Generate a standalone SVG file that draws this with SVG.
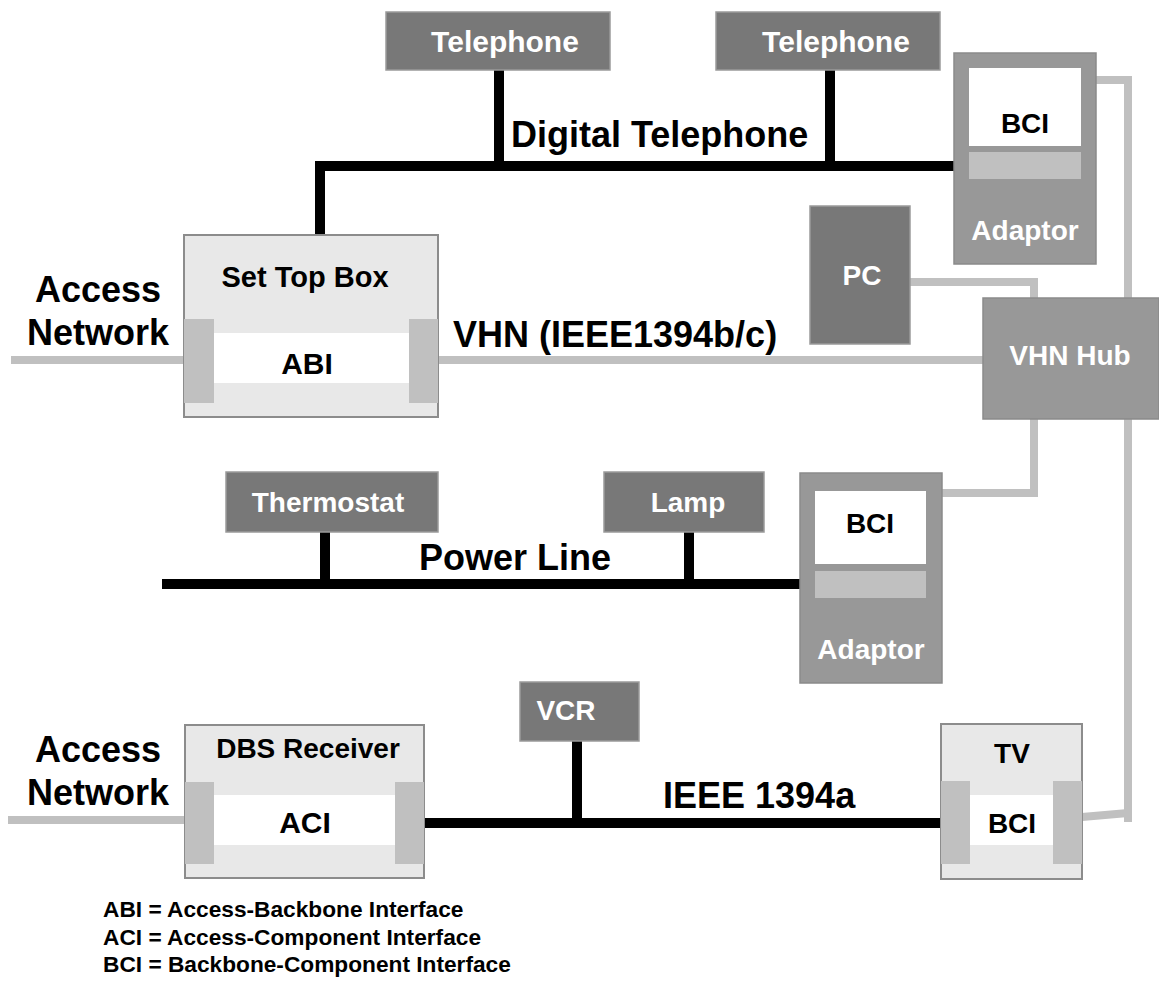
<svg xmlns="http://www.w3.org/2000/svg" width="1159" height="1007" viewBox="0 0 1159 1007">
<style>
text{font-family:"Liberation Sans",Arial,sans-serif;font-weight:bold}
.dk{fill:#787878;stroke:#9a9a9a;stroke-width:1.5}
.md{fill:#989898;stroke:#8a8a8a;stroke-width:1.5}
.lt{fill:#e8e8e8;stroke:#8c8c8c;stroke-width:2}
.wh{fill:#ffffff}
.cn{fill:#c0c0c0}
.wt{fill:#ffffff;font-size:28px;text-anchor:middle}
.bt{fill:#000000;font-size:28px;text-anchor:middle}
.big{fill:#000000;font-size:36px}
.leg{fill:#000000;font-size:22.7px}
.bk{stroke:#000;stroke-width:10;fill:none}
.gr{stroke:#c0c0c0;stroke-width:8;fill:none}
</style>
<g id="connectors">
<polyline class="bk" points="320,236 320,166 954,166"/>
<line class="bk" x1="499" y1="70" x2="499" y2="166"/>
<line class="bk" x1="830" y1="70" x2="830" y2="166"/>
<line class="bk" x1="162" y1="584" x2="800" y2="584"/>
<line class="bk" x1="325" y1="532" x2="325" y2="584"/>
<line class="bk" x1="689" y1="532" x2="689" y2="584"/>
<line class="bk" x1="424" y1="823" x2="941" y2="823"/>
<line class="bk" x1="577" y1="741" x2="577" y2="823"/>
<line class="gr" x1="11" y1="360" x2="184" y2="360"/>
<line class="gr" x1="8" y1="820" x2="185" y2="820"/>
<line class="gr" x1="438" y1="360" x2="983" y2="360"/>
<polyline class="gr" points="910,282 1034,282 1034,298"/>
<polyline class="gr" points="1034,419 1034,493 942,493"/>
<polyline class="gr" points="1096,80 1128,80 1128,822"/>
<line class="gr" x1="1082" y1="817" x2="1128" y2="813"/>
</g>
<g id="telephone1"><rect class="dk" x="386" y="12" width="224" height="58"/><text class="wt" x="505" y="52" style="font-size:30px">Telephone</text></g>
<g id="telephone2"><rect class="dk" x="716" y="12" width="224" height="58"/><text class="wt" x="836" y="52" style="font-size:30px">Telephone</text></g>
<g id="adaptor1"><rect class="md" x="954" y="53" width="142" height="211"/><rect class="wh" x="969" y="68" width="112" height="78"/><rect class="cn" x="969" y="152" width="112" height="27"/><text class="bt" x="1025" y="133">BCI</text><text class="wt" x="1025" y="240">Adaptor</text></g>
<g id="settopbox"><rect class="lt" x="184" y="235" width="254" height="182"/><rect class="wh" x="214" y="333" width="195" height="50"/><rect class="cn" x="184" y="319" width="30" height="84"/><rect class="cn" x="409" y="319" width="29" height="84"/><text class="bt" x="305" y="287" style="font-size:29px">Set Top Box</text><text class="bt" x="307" y="374" style="font-size:30px">ABI</text></g>
<g id="pc"><rect class="dk" x="810" y="206" width="100" height="138"/><text class="wt" x="862" y="285">PC</text></g>
<g id="vhnhub"><rect class="md" x="983" y="298" width="176" height="121"/><text class="wt" x="1070" y="365">VHN Hub</text></g>
<g id="thermostat"><rect class="dk" x="226" y="472" width="212" height="60"/><text class="wt" x="328" y="512">Thermostat</text></g>
<g id="lamp"><rect class="dk" x="604" y="472" width="160" height="60"/><text class="wt" x="688" y="512">Lamp</text></g>
<g id="adaptor2"><rect class="md" x="800" y="473" width="142" height="210"/><rect class="wh" x="815" y="491" width="111" height="73"/><rect class="cn" x="815" y="571" width="111" height="27"/><text class="bt" x="870" y="533">BCI</text><text class="wt" x="871" y="659">Adaptor</text></g>
<g id="vcr"><rect class="dk" x="520" y="682" width="119" height="59"/><text class="wt" x="566" y="720">VCR</text></g>
<g id="dbsreceiver"><rect class="lt" x="185" y="725" width="239" height="153"/><rect class="wh" x="214" y="795" width="181" height="50"/><rect class="cn" x="185" y="782" width="29" height="82"/><rect class="cn" x="395" y="782" width="29" height="82"/><text class="bt" x="308" y="758">DBS Receiver</text><text class="bt" x="305" y="833" style="font-size:30px">ACI</text></g>
<g id="tv"><rect class="lt" x="941" y="724" width="141" height="155"/><rect class="wh" x="970" y="795" width="83" height="50"/><rect class="cn" x="941" y="781" width="29" height="83"/><rect class="cn" x="1053" y="781" width="29" height="83"/><text class="bt" x="1012" y="763">TV</text><text class="bt" x="1012" y="833">BCI</text></g>
<g id="labels">
<text class="big" x="98" y="302" text-anchor="middle">Access</text>
<text class="big" x="98" y="345" text-anchor="middle">Network</text>
<text class="big" x="98" y="762" text-anchor="middle">Access</text>
<text class="big" x="98" y="805" text-anchor="middle">Network</text>
<text class="big" x="511" y="147">Digital Telephone</text>
<text class="big" x="453" y="347">VHN (IEEE1394b/c)</text>
<text class="big" x="515" y="570" text-anchor="middle">Power Line</text>
<text class="big" x="663" y="808">IEEE 1394a</text>
<text class="leg" x="103" y="917">ABI = Access-Backbone Interface</text>
<text class="leg" x="103" y="945">ACI = Access-Component Interface</text>
<text class="leg" x="103" y="972">BCI = Backbone-Component Interface</text>
</g>
</svg>
